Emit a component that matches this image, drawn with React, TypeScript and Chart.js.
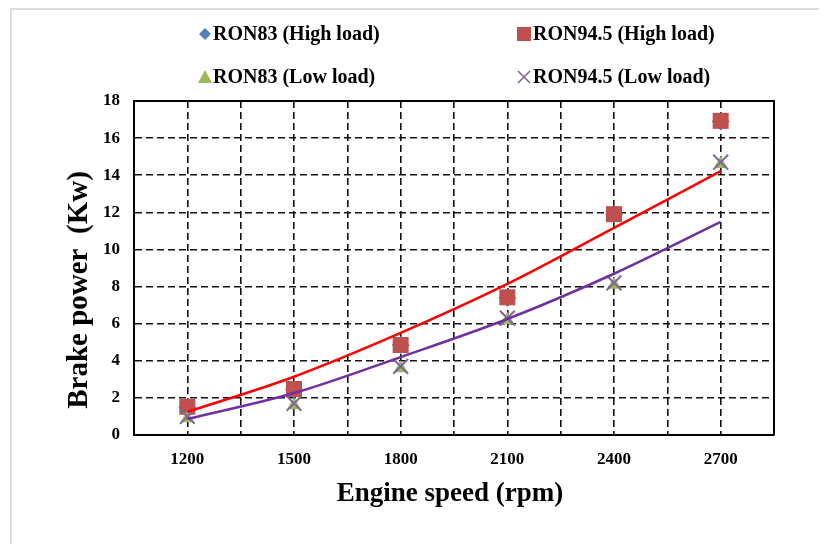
import React, { useEffect, useRef } from 'react';
import { Chart, registerables } from 'chart.js';

Chart.register(...registerables);

// ---------- data ----------
const speeds = [1200, 1500, 1800, 2100, 2400, 2700];
const ron83High = [1.5, 2.45, 4.85, 7.4, 11.9, 16.9];
const ron945High = [1.52, 2.48, 4.85, 7.42, 11.9, 16.93];
const ron83Low = [0.9, 1.6, 3.6, 6.2, 8.1, 14.6];
const ron945Low = [1.0, 1.7, 3.7, 6.3, 8.2, 14.7];
const trendHigh = [1.24, 3.14, 5.5, 8.14, 11.16, 14.22];
const trendLow = [0.86, 2.26, 4.2, 6.25, 8.69, 11.48];

const seriesLabels = [
  'RON83 (High load)',
  'RON94.5 (High load)',
  'RON83 (Low load)',
  'RON94.5 (Low load)',
];
const xTitle = 'Engine speed (rpm)';
const yTitle = 'Brake power  (Kw)';
const yTickValues = [0, 2, 4, 6, 8, 10, 12, 14, 16, 18];

const FONT = '"Liberation Serif", "Times New Roman", serif';

const toPts = (ys: number[]) => speeds.map((x, i) => ({ x, y: ys[i] }));

function drawMarker(ctx: CanvasRenderingContext2D, kind: string, x: number, y: number, color: string) {
  ctx.save();
  ctx.fillStyle = color;
  ctx.strokeStyle = color;
  ctx.beginPath();
  if (kind === 'diamond') {
    const r = 6;
    ctx.moveTo(x, y - r); ctx.lineTo(x + r, y); ctx.lineTo(x, y + r); ctx.lineTo(x - r, y);
    ctx.closePath(); ctx.fill();
  } else if (kind === 'square') {
    ctx.rect(x - 7, y - 7, 14, 14); ctx.fill();
  } else if (kind === 'triangle') {
    ctx.moveTo(x, y - 7); ctx.lineTo(x + 7, y + 6); ctx.lineTo(x - 7, y + 6);
    ctx.closePath(); ctx.fill();
  } else {
    const r = 6;
    ctx.lineWidth = 1.6;
    ctx.moveTo(x - r, y - r); ctx.lineTo(x + r, y + r);
    ctx.moveTo(x + r, y - r); ctx.lineTo(x - r, y + r);
    ctx.stroke();
  }
  ctx.restore();
}

const legendKinds = ['diamond', 'square', 'triangle', 'cross'];
const legendColors = ['#4F81BD', '#C0504D', '#9BBB59', '#8064A2'];

const decorPlugin = {
  id: 'decor',
  afterDraw(chart: any) {
    const { ctx, chartArea: a } = chart;
    ctx.save();
    // solid top / right frame of plot area
    ctx.setLineDash([]);
    ctx.strokeStyle = '#000';
    ctx.lineWidth = 2;
    ctx.beginPath();
    ctx.moveTo(a.left, a.top);
    ctx.lineTo(a.right, a.top);
    ctx.lineTo(a.right, a.bottom);
    ctx.stroke();

    // axis titles
    ctx.fillStyle = '#000';
    ctx.font = `bold 27px ${FONT}`;
    ctx.textAlign = 'center';
    ctx.textBaseline = 'middle';
    ctx.fillText(xTitle, 438, 484);
    ctx.save();
    ctx.translate(68, 280);
    ctx.rotate(-Math.PI / 2);
    ctx.font = `bold 29px ${FONT}`;
    ctx.fillText(yTitle, 0, 0);
    ctx.restore();

    // legend (2 x 2)
    ctx.font = `bold 20px ${FONT}`;
    ctx.textAlign = 'left';
    const colMarker = [193, 512];
    const colText = [201, 521];
    const rowY = [24, 67];
    for (let i = 0; i < 4; i++) {
      const col = i % 2;
      const row = Math.floor(i / 2);
      drawMarker(ctx, legendKinds[i], colMarker[col], rowY[row], legendColors[i]);
      ctx.fillStyle = '#000';
      ctx.fillText(chart.data.datasets[i].label, colText[col], rowY[row] + 1);
    }
    ctx.restore();
  },
};

export default function App() {
  const ref = useRef<HTMLCanvasElement | null>(null);

  useEffect(() => {
    if (!ref.current) return;
    const tickFont = { family: FONT, size: 17, weight: 'bold' as const };
    const chart = new Chart(ref.current, {
      type: 'scatter',
      data: {
        datasets: [
          {
            label: seriesLabels[0],
            data: toPts(ron83High),
            pointStyle: 'rectRot',
            pointRadius: 9,
            backgroundColor: '#4F81BD',
            borderColor: '#4F81BD',
            borderWidth: 0,
            order: 6,
          },
          {
            label: seriesLabels[1],
            data: toPts(ron945High),
            pointStyle: 'rect',
            pointRadius: 11.3,
            backgroundColor: '#C0504D',
            borderColor: '#C0504D',
            borderWidth: 0,
            order: 5,
          },
          {
            label: seriesLabels[2],
            data: toPts(ron83Low),
            pointStyle: 'triangle',
            pointRadius: 8,
            backgroundColor: '#9BBB59',
            borderColor: '#9BBB59',
            borderWidth: 0,
            order: 4,
          },
          {
            label: seriesLabels[3],
            data: toPts(ron945Low),
            pointStyle: 'crossRot',
            pointRadius: 10.5,
            backgroundColor: '#8064A2',
            borderColor: '#8064A2',
            borderWidth: 2,
            order: 3,
          },
          {
            label: 'trend high',
            type: 'line',
            data: toPts(trendHigh),
            borderColor: '#FF0000',
            borderWidth: 2.5,
            pointRadius: 0,
            cubicInterpolationMode: 'monotone',
            fill: false,
            order: 2,
          } as any,
          {
            label: 'trend low',
            type: 'line',
            data: toPts(trendLow),
            borderColor: '#7030A0',
            borderWidth: 2.5,
            pointRadius: 0,
            cubicInterpolationMode: 'monotone',
            fill: false,
            order: 1,
          } as any,
        ],
      },
      options: {
        responsive: false,
        animation: false,
        layout: { padding: { top: 91, right: 53, left: 0, bottom: 0 } },
        plugins: {
          legend: { display: false },
          tooltip: { enabled: false },
          title: { display: false },
        },
        scales: {
          x: {
            type: 'linear',
            min: 1050,
            max: 2850,
            afterFit: (s: any) => { s.height = 109; },
            afterBuildTicks: (s: any) => {
              const t = [];
              for (let v = 1050; v <= 2850; v += 150) t.push({ value: v });
              s.ticks = t;
            },
            ticks: {
              autoSkip: false,
              maxRotation: 0,
              padding: 14,
              color: '#000',
              font: tickFont,
              callback: (v: any) => (speeds.includes(Number(v)) ? String(v) : ''),
            },
            grid: { color: '#111', lineWidth: 1.6, drawTicks: false },
            border: { display: true, color: '#000', width: 2, dash: [7, 4] },
          },
          y: {
            type: 'linear',
            min: 0,
            max: 18,
            afterFit: (s: any) => { s.width = 122; },
            afterBuildTicks: (s: any) => {
              s.ticks = yTickValues.map((v) => ({ value: v }));
            },
            ticks: {
              padding: 14,
              color: '#000',
              font: tickFont,
              callback: (v: any) => String(v),
            },
            grid: { color: '#111', lineWidth: 1.6, drawTicks: false },
            border: { display: true, color: '#000', width: 2, dash: [7, 4] },
          },
        },
      },
      plugins: [decorPlugin],
    });
    return () => chart.destroy();
  }, []);

  return (
    <div
      style={{
        marginLeft: 2,
        width: 817,
        height: 536,
        boxSizing: 'border-box',
        borderLeft: '2px solid #dcdcdc',
        borderTop: '2px solid #dcdcdc',
        background: '#fff',
        overflow: 'hidden',
      }}
    >
      <canvas ref={ref} width={815} height={534} style={{ display: 'block' }} />
    </div>
  );
}
